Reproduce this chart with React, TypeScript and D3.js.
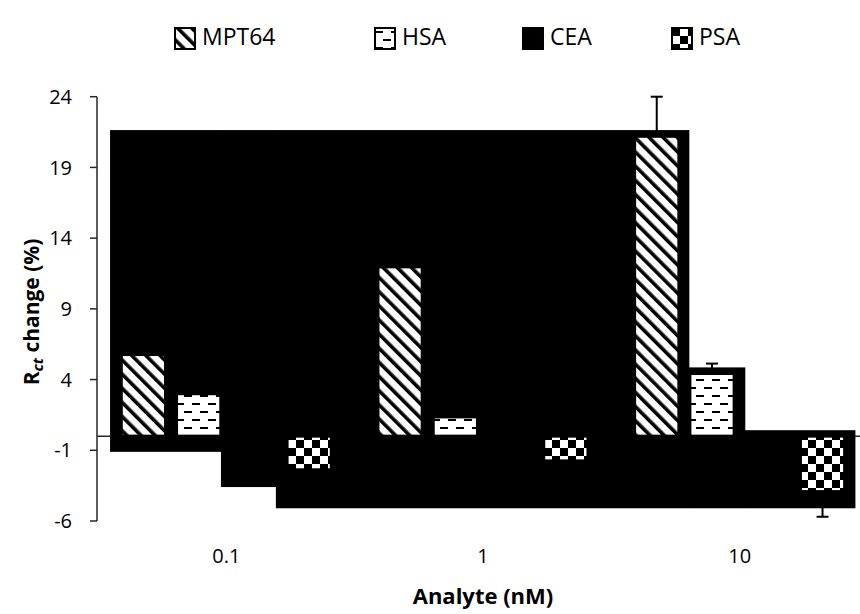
import { useEffect, useRef } from "react";
import * as d3 from "d3";

const categories = ["0.1", "1", "10"];
const seriesNames = ["MPT64", "HSA", "CEA", "PSA"];

// R_ct change (%) per concentration
const mpt64 = [5.77, 11.97, 21.2];
const mpt64Err = [1.1, 1.8, 2.8];
const hsa = [3.0, 1.36, 4.43];
const hsaErr = [0.5, 0.3, 0.7];
const cea = [-2.5, -3.5, -2.5];
const ceaErr = [0.3, 0.5, 0.6];
const psa = [-2.38, -1.75, -3.92];
const psaErr = [0.6, 0.4, 1.78];

// black backdrop steps as drawn in the original (x in category units, y in %)
const backdropFrom = [0.047, 0.479, 0.693, 2.302, 2.52];
const backdropTo = [0.479, 0.693, 2.302, 2.52, 2.949];
const backdropTop = [21.64, 21.64, 21.64, 4.86, 0.42];
const backdropBottom = [-1.11, -3.6, -5.1, -5.1, -5.1];

const yTicks = [-6, -1, 4, 9, 14, 19, 24];

const FONT = "'Open Sans', 'Liberation Sans', sans-serif";

const App = () => {
    const svgRef = useRef(null);
    const width = 860;
    const height = 614;

    useEffect(() => {
        const svgElement = svgRef.current;
        if (!svgElement) return;
        const svg = d3.select(svgElement);
        svg.selectAll("*").remove();

        const plot = { left: 98, right: 868, top: 96.7, bottom: 521 };

        const x0 = d3.scaleBand().domain(categories).range([plot.left, plot.right]);
        const xu = d3.scaleLinear().domain([0, 3]).range([plot.left, plot.right]);
        const x1 = d3
            .scaleBand()
            .domain(seriesNames)
            .range([23.3, 233.3])
            .paddingInner(0.2);
        const y = d3.scaleLinear().domain([-6, 24]).range([plot.bottom, plot.top]);

        const values = { MPT64: mpt64, HSA: hsa, CEA: cea, PSA: psa };
        const errors = { MPT64: mpt64Err, HSA: hsaErr, CEA: ceaErr, PSA: psaErr };

        // patterns
        const defs = svg.append("defs");
        const stripes = defs
            .append("pattern")
            .attr("id", "p-MPT64")
            .attr("patternUnits", "userSpaceOnUse")
            .attr("width", 10)
            .attr("height", 10)
            .attr("patternTransform", "rotate(-45)");
        stripes.append("rect").attr("width", 10).attr("height", 10).attr("fill", "#fff");
        stripes.append("rect").attr("width", 3.6).attr("height", 10).attr("fill", "#000");

        const dashes = defs
            .append("pattern")
            .attr("id", "p-HSA")
            .attr("patternUnits", "userSpaceOnUse")
            .attr("width", 16)
            .attr("height", 16);
        dashes.append("rect").attr("width", 16).attr("height", 16).attr("fill", "#fff");
        dashes.append("rect").attr("x", 0).attr("y", 3).attr("width", 8).attr("height", 2).attr("fill", "#000");
        dashes.append("rect").attr("x", 8).attr("y", 11).attr("width", 8).attr("height", 2).attr("fill", "#000");

        const checker = defs
            .append("pattern")
            .attr("id", "p-PSA")
            .attr("patternUnits", "userSpaceOnUse")
            .attr("width", 16)
            .attr("height", 16);
        checker.append("rect").attr("width", 16).attr("height", 16).attr("fill", "#fff");
        checker.append("rect").attr("width", 8).attr("height", 8).attr("fill", "#000");
        checker.append("rect").attr("x", 8).attr("y", 8).attr("width", 8).attr("height", 8).attr("fill", "#000");

        const fillFor = (s) => (s === "CEA" ? "#000" : `url(#p-${s})`);

        // y axis
        const axisColor = "#262626";
        svg.append("line")
            .attr("x1", 97).attr("x2", 97)
            .attr("y1", y(24)).attr("y2", y(-6))
            .attr("stroke", axisColor).attr("stroke-width", 1.5);
        svg.append("g")
            .selectAll("line")
            .data(yTicks)
            .join("line")
            .attr("x1", 90).attr("x2", 97)
            .attr("y1", (d) => y(d)).attr("y2", (d) => y(d))
            .attr("stroke", axisColor).attr("stroke-width", 1.5);
        svg.append("g")
            .selectAll("text")
            .data(yTicks)
            .join("text")
            .attr("x", 72)
            .attr("y", (d) => y(d))
            .attr("dy", "0.36em")
            .attr("text-anchor", "end")
            .attr("font-family", FONT)
            .attr("font-size", 20)
            .attr("fill", "#000")
            .text((d) => d);

        // x axis at zero
        svg.append("line")
            .attr("x1", 97).attr("x2", 870)
            .attr("y1", y(0)).attr("y2", y(0))
            .attr("stroke", axisColor).attr("stroke-width", 1.5);

        svg.append("g")
            .selectAll("text")
            .data(categories)
            .join("text")
            .attr("x", (d) => x0(d) + x0.bandwidth() / 2)
            .attr("y", 563)
            .attr("text-anchor", "middle")
            .attr("font-family", FONT)
            .attr("font-size", 20)
            .attr("fill", "#000")
            .text((d) => d);

        // black backdrop
        svg.append("g")
            .selectAll("rect")
            .data(backdropFrom.map((f, i) => i))
            .join("rect")
            .attr("x", (i) => xu(backdropFrom[i]))
            .attr("width", (i) => xu(backdropTo[i]) - xu(backdropFrom[i]) + 0.5)
            .attr("y", (i) => y(backdropTop[i]))
            .attr("height", (i) => y(backdropBottom[i]) - y(backdropTop[i]))
            .attr("fill", "#000");

        // bars
        const bars = [];
        categories.forEach((c, ci) => {
            seriesNames.forEach((s) => {
                bars.push({ cat: c, series: s, value: values[s][ci], err: errors[s][ci] });
            });
        });

        svg.append("g")
            .selectAll("rect")
            .data(bars)
            .join("rect")
            .attr("x", (d) => x0(d.cat) + x1(d.series))
            .attr("width", x1.bandwidth())
            .attr("y", (d) => y(Math.max(0, d.value)))
            .attr("height", (d) => Math.abs(y(d.value) - y(0)))
            .attr("fill", (d) => fillFor(d.series))
            .attr("stroke", "#000")
            .attr("stroke-width", 3);

        // error bars (one-sided, away from zero)
        const errG = svg.append("g").attr("stroke", "#000").attr("stroke-width", 2);
        bars.forEach((d) => {
            const cx = x0(d.cat) + x1(d.series) + x1.bandwidth() / 2;
            const end = d.value >= 0 ? d.value + d.err : d.value - d.err;
            errG.append("line")
                .attr("x1", cx).attr("x2", cx)
                .attr("y1", y(d.value)).attr("y2", y(end));
            errG.append("line")
                .attr("x1", cx - 6).attr("x2", cx + 6)
                .attr("y1", y(end)).attr("y2", y(end));
        });

        // axis titles
        svg.append("text")
            .attr("x", 483)
            .attr("y", 604)
            .attr("text-anchor", "middle")
            .attr("font-family", FONT)
            .attr("font-size", 22)
            .attr("font-weight", "bold")
            .attr("fill", "#000")
            .text("Analyte (nM)");

        const yTitle = svg.append("text")
            .attr("transform", "translate(39, 312) rotate(-90)")
            .attr("text-anchor", "middle")
            .attr("font-family", FONT)
            .attr("font-size", 21)
            .attr("font-weight", "bold")
            .attr("fill", "#000");
        yTitle.append("tspan").text("R");
        yTitle.append("tspan")
            .attr("font-style", "italic")
            .attr("font-size", 15)
            .attr("dy", 4)
            .text("ct");
        yTitle.append("tspan").attr("dy", -4).text(" change (%)");

        // legend
        const legendX = [175, 375, 523, 672];
        const legend = svg.append("g")
            .selectAll("g")
            .data(seriesNames)
            .join("g")
            .attr("transform", (d, i) => `translate(${legendX[i]}, 28)`);
        legend.append("rect")
            .attr("width", 20)
            .attr("height", 21)
            .attr("fill", (d) => fillFor(d))
            .attr("stroke", "#000")
            .attr("stroke-width", 2);
        legend.append("text")
            .attr("x", 27)
            .attr("y", 17)
            .attr("font-family", FONT)
            .attr("font-size", 23)
            .attr("fill", "#000")
            .text((d) => d);
    }, []);

    return (
        <svg
            ref={svgRef}
            width={width}
            height={height}
            style={{ position: "absolute", left: 0, top: 0, background: "#fff" }}
        ></svg>
    );
};

export default App;
